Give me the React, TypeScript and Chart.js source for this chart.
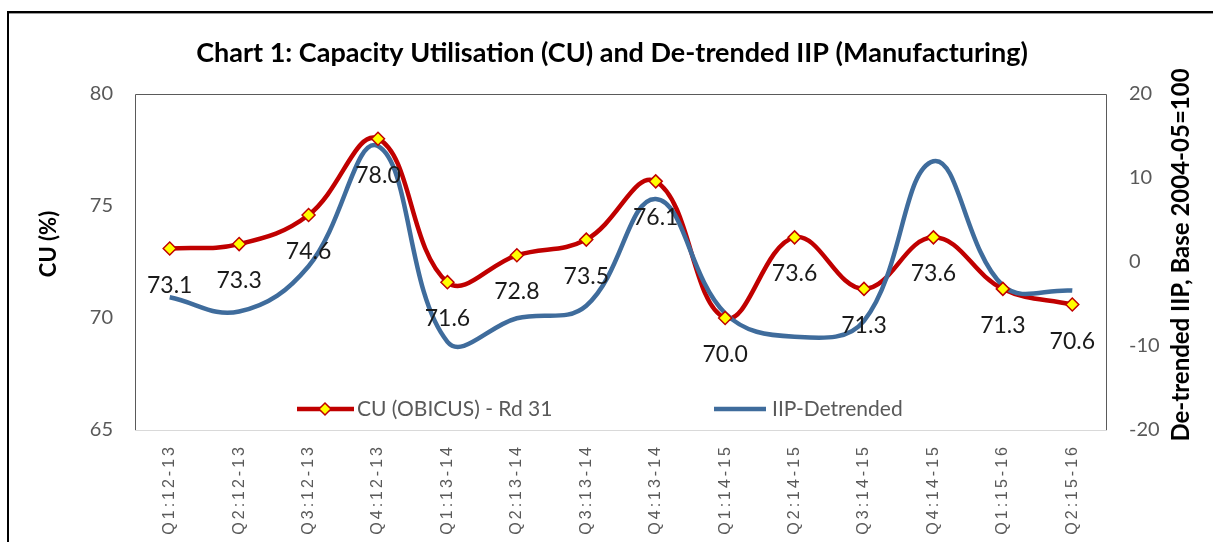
import { useEffect, useRef } from "react";
import { Chart, registerables } from "chart.js";

Chart.register(...registerables);

// ---- data ----
const categories = [
  "Q1:12-13", "Q2:12-13", "Q3:12-13", "Q4:12-13",
  "Q1:13-14", "Q2:13-14", "Q3:13-14", "Q4:13-14",
  "Q1:14-15", "Q2:14-15", "Q3:14-15", "Q4:14-15",
  "Q1:15-16", "Q2:15-16",
];
const cuValues = [73.1, 73.3, 74.6, 78.0, 71.6, 72.8, 73.5, 76.1, 70.0, 73.6, 71.3, 73.6, 71.3, 70.6];
const iipValues = [-4.2, -5.9, -0.5, 13.8, -9.5, -6.7, -5.2, 7.5, -6.1, -8.9, -7.0, 12.0, -2.8, -3.4];
const cuAxisRange = [65, 80, 5];
const iipAxisRange = [-20, 20, 10];

const titleText = "Chart 1: Capacity Utilisation (CU) and De-trended IIP (Manufacturing)";
const leftTitle = "CU (%)";
const rightTitle = "De-trended IIP, Base 2004-05=100";
const cuLabel = "CU (OBICUS) - Rd 31";
const iipLabel = "IIP-Detrended";

const RED = "#C00000";
const BLUE = "#3F6C9C";
const GRAY = "#595959";
const FONT = "Lato, 'Open Sans', sans-serif";

const framePlugin = {
  id: "frame",
  beforeDraw(chart: any) {
    const ctx = chart.ctx;
    ctx.save();
    ctx.fillStyle = "#ffffff";
    ctx.fillRect(0, 0, chart.width, chart.height);
    ctx.fillStyle = "#000000";
    ctx.fillRect(7, 11, 2, chart.height);
    ctx.fillRect(7, 11, chart.width, 2);
    ctx.fillStyle = "#9a9a9a";
    ctx.fillRect(9, 13, chart.width, 1);
    ctx.restore();
    // letter-spaced x labels
    const xs: any = chart.scales.x;
    if (xs && !xs.__wrapped) {
      const orig = xs.drawLabels.bind(xs);
      xs.drawLabels = (area: any) => {
        const c: any = chart.ctx;
        c.save();
        c.letterSpacing = "3px";
        orig(area);
        c.restore();
      };
      xs.__wrapped = true;
    }
  },
  beforeDatasetsDraw(chart: any) {
    const { ctx, chartArea: a } = chart;
    ctx.save();
    ctx.lineWidth = 1;
    ctx.strokeStyle = "#d9d9d9";
    ctx.beginPath();
    ctx.moveTo(a.left, a.bottom + 0.5);
    ctx.lineTo(a.right, a.bottom + 0.5);
    ctx.stroke();
    ctx.strokeStyle = "#5a5a5a";
    ctx.beginPath();
    ctx.moveTo(a.left + 0.5, a.bottom);
    ctx.lineTo(a.left + 0.5, a.top + 0.5);
    ctx.lineTo(a.right - 0.5, a.top + 0.5);
    ctx.lineTo(a.right - 0.5, a.bottom);
    ctx.stroke();
    ctx.restore();
  },
  afterDatasetsDraw(chart: any) {
    const ctx = chart.ctx;
    const meta = chart.getDatasetMeta(2);
    ctx.save();
    ctx.font = `23px ${FONT}`;
    ctx.fillStyle = "#1a1a1a";
    ctx.textAlign = "center";
    ctx.textBaseline = "alphabetic";
    meta.data.forEach((pt: any, i: number) => {
      ctx.fillText(cuValues[i].toFixed(1), pt.x, pt.y + 44);
    });
    ctx.restore();
  },
  afterDraw(chart: any) {
    const ctx = chart.ctx;
    ctx.save();
    // chart title
    ctx.fillStyle = "#000000";
    ctx.textAlign = "center";
    ctx.textBaseline = "middle";
    ctx.font = `bold 27px ${FONT}`;
    ctx.fillText(titleText, 612, 53);
    // axis titles
    ctx.font = `bold 22px ${FONT}`;
    ctx.save();
    ctx.translate(49, 244);
    ctx.rotate(-Math.PI / 2);
    ctx.fillText(leftTitle, 0, 0);
    ctx.restore();
    ctx.font = `bold 24px ${FONT}`;
    ctx.save();
    ctx.translate(1181, 255);
    ctx.rotate(-Math.PI / 2);
    ctx.fillText(rightTitle, 0, 0);
    ctx.restore();
    // legend
    const ly = 409;
    ctx.lineWidth = 4.5;
    ctx.strokeStyle = RED;
    ctx.beginPath();
    ctx.moveTo(297, ly);
    ctx.lineTo(354, ly);
    ctx.stroke();
    ctx.fillStyle = "#FFFF00";
    ctx.strokeStyle = RED;
    ctx.lineWidth = 1.5;
    ctx.beginPath();
    ctx.moveTo(325, ly - 6);
    ctx.lineTo(331, ly);
    ctx.lineTo(325, ly + 6);
    ctx.lineTo(319, ly);
    ctx.closePath();
    ctx.fill();
    ctx.stroke();
    ctx.lineWidth = 4.5;
    ctx.strokeStyle = BLUE;
    ctx.beginPath();
    ctx.moveTo(714, ly);
    ctx.lineTo(766, ly);
    ctx.stroke();
    ctx.fillStyle = GRAY;
    ctx.font = `21px ${FONT}`;
    ctx.textAlign = "left";
    ctx.fillText(cuLabel, 357, ly);
    ctx.fillText(iipLabel, 772, ly);
    ctx.restore();
  },
};

export default function App() {
  const ref = useRef<HTMLCanvasElement | null>(null);
  useEffect(() => {
    if (!ref.current) return;
    const chart = new Chart(ref.current, {
      type: "line",
      data: {
        labels: categories,
        datasets: [
          {
            label: cuLabel,
            data: cuValues,
            yAxisID: "y",
            borderColor: RED,
            borderWidth: 4.5,
            pointRadius: 0,
            tension: 0.4,
            order: 2,
          },
          {
            label: iipLabel,
            data: iipValues,
            yAxisID: "y1",
            borderColor: BLUE,
            borderWidth: 4.5,
            pointRadius: 0,
            tension: 0.4,
            order: 1,
          },
          {
            label: cuLabel + " markers",
            data: cuValues,
            yAxisID: "y",
            showLine: false,
            pointStyle: "rectRot",
            pointRadius: 6.5,
            pointBackgroundColor: "#FFFF00",
            pointBorderColor: RED,
            pointBorderWidth: 1.5,
            order: 0,
          },
        ],
      },
      options: {
        animation: false,
        responsive: false,
        layout: { padding: { top: 94, left: 0, right: 0, bottom: 0 } },
        plugins: {
          legend: { display: false },
          tooltip: { enabled: false },
          title: { display: false },
        },
        scales: {
          x: {
            offset: true,
            grid: { display: false, drawTicks: false },
            border: { display: false },
            ticks: {
              autoSkip: false,
              minRotation: 90,
              maxRotation: 90,
              padding: 14,
              color: GRAY,
              font: { family: "'Liberation Sans', Arial, sans-serif", size: 16 },
            },
            afterFit(s: any) {
              s.height = 112;
            },
          },
          y: {
            position: "left",
            min: cuAxisRange[0],
            max: cuAxisRange[1],
            grid: { display: false, drawTicks: false },
            border: { display: false },
            ticks: {
              stepSize: cuAxisRange[2],
              padding: 22,
              color: GRAY,
              font: { family: FONT, size: 20 },
            },
            afterFit(s: any) {
              s.width = 135;
            },
          },
          y1: {
            position: "right",
            min: iipAxisRange[0],
            max: iipAxisRange[1],
            grid: { display: false, drawTicks: false },
            border: { display: false },
            ticks: {
              stepSize: iipAxisRange[2],
              padding: 22,
              color: GRAY,
              font: { family: FONT, size: 20 },
            },
            afterFit(s: any) {
              s.width = 106;
            },
          },
        },
      },
      plugins: [framePlugin],
    } as any);
    return () => chart.destroy();
  }, []);
  return (
    <div style={{ position: "absolute", left: 0, top: 0, width: 1213, height: 542 }}>
      <canvas ref={ref} width={1213} height={542} style={{ display: "block" }} />
    </div>
  );
}
